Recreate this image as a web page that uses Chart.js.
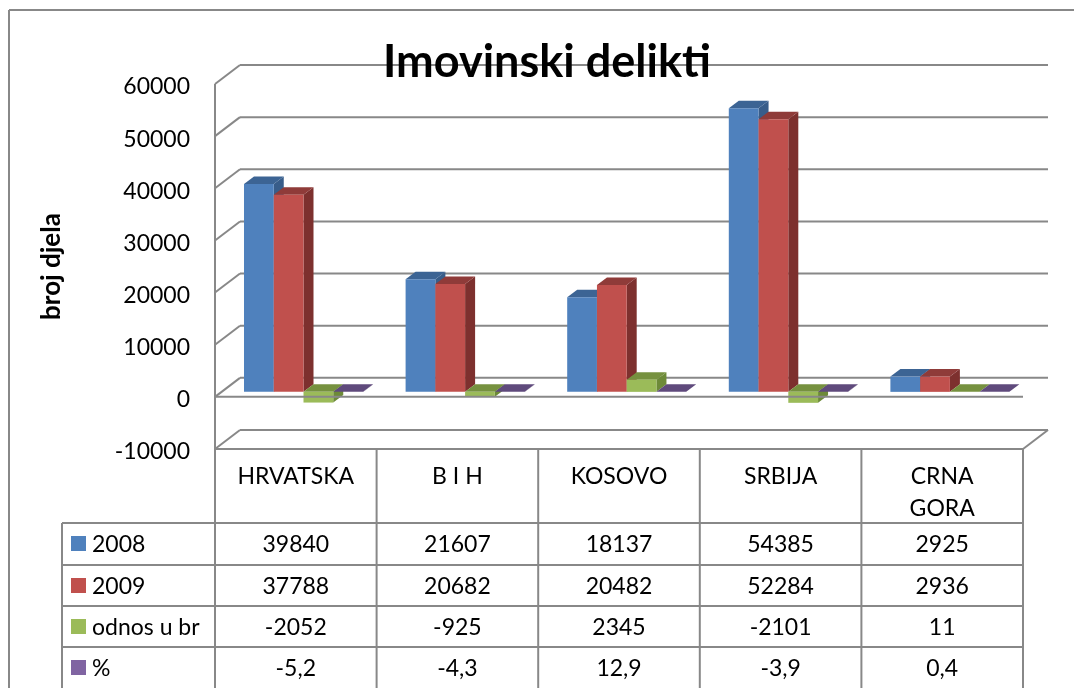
<!DOCTYPE html>
<html>
<head>
<meta charset="utf-8">
<style>html,body{margin:0;padding:0;background:#fff}canvas{display:block}</style>
<script src="https://cdn.jsdelivr.net/npm/chart.js@4"></script>
</head>
<body>
<canvas id="c" width="1074" height="688"></canvas>
<script>
const categories = ['HRVATSKA', 'B I H', 'KOSOVO', 'SRBIJA', ['CRNA', 'GORA']];
const seriesNames = ['2008', '2009', 'odnos u br', '%'];
const v2008 = [39840, 21607, 18137, 54385, 2925];
const v2009 = [37788, 20682, 20482, 52284, 2936];
const odnos = [-2052, -925, 2345, -2101, 11];
const postotak = [-5.2, -4.3, 12.9, -3.9, 0.4];
const frontColors = ['#4f81bd', '#c0504d', '#9bbb59', '#8064a2'];
const topColors = ['#3c6494', '#8f3b39', '#76913f', '#5f4a7c'];
const sideColors = ['#385d8a', '#7d302e', '#6d8a38', '#584472'];
const rowTops = [523, 565, 606, 647];

const LINE = '#888888', FONT = 'Lato';
const WALL = {dx: 25, dy: -19};     // depth of the plot box
const PLANE = {dx: 7.7, dy: -5};    // plane in which the bars stand
const BAR = {dx: 10, dy: -7.5};     // depth of one bar

function seg(ctx, x1, y1, x2, y2) { ctx.beginPath(); ctx.moveTo(x1, y1); ctx.lineTo(x2, y2); ctx.stroke(); }
function poly(ctx, pts, col) {
  ctx.fillStyle = col; ctx.beginPath();
  pts.forEach((p, i) => i ? ctx.lineTo(p[0], p[1]) : ctx.moveTo(p[0], p[1]));
  ctx.closePath(); ctx.fill();
}
const fmt = v => String(v).replace('.', ',');

const plot3d = {
  id: 'plot3d',
  afterLayout(chart) {
    chart.titleBlock.left = 0; chart.titleBlock.right = 1094;
  },
  beforeDraw(chart) {
    const ctx = chart.ctx, {x, y} = chart.scales, a = chart.chartArea;
    ctx.save();
    ctx.fillStyle = '#fff'; ctx.fillRect(0, 0, chart.width, chart.height);
    ctx.strokeStyle = LINE; ctx.lineWidth = 2;
    seg(ctx, 9, 10, chart.width, 10); seg(ctx, 9, 10, 9, chart.height);
    y.ticks.forEach(t => {
      const py = y.getPixelForValue(t.value);
      seg(ctx, a.left, py, a.left + WALL.dx, py + WALL.dy);
      seg(ctx, a.left + WALL.dx, py + WALL.dy, a.right + WALL.dx, py + WALL.dy);
    });
    const by = y.getPixelForValue(y.min);
    seg(ctx, a.right, by, a.right + WALL.dx, by + WALL.dy);
    seg(ctx, a.left, a.top, a.left, chart.height);
    // data table
    const half = (x.getPixelForValue(1) - x.getPixelForValue(0)) / 2;
    seg(ctx, a.left, by, a.right, by);
    categories.forEach((c, i) => {
      const px = x.getPixelForValue(i) + half;
      seg(ctx, px, by, px, chart.height);
    });
    seg(ctx, 62, rowTops[0], 62, chart.height);
    rowTops.forEach(ry => seg(ctx, 62, ry, a.right, ry));
    ctx.restore();
  },
  beforeDatasetsDraw(chart) {
    const ctx = chart.ctx, {y} = chart.scales, a = chart.chartArea;
    ctx.save();
    ctx.translate(PLANE.dx, PLANE.dy);
    categories.forEach((c, i) => {
      chart.data.datasets.forEach((ds, j) => {
        const el = chart.getDatasetMeta(j).data[i];
        const l = el.x - el.width / 2, r = el.x + el.width / 2;
        const t = Math.min(el.y, el.base), b = Math.max(el.y, el.base);
        poly(ctx, [[r, t], [r + BAR.dx, t + BAR.dy], [r + BAR.dx, b + BAR.dy], [r, b]], sideColors[j]);
        poly(ctx, [[l, t], [l + BAR.dx, t + BAR.dy], [r + BAR.dx, t + BAR.dy], [r, t]], topColors[j]);
        el.draw(ctx);
      });
    });
    ctx.restore();
    ctx.save();
    ctx.strokeStyle = LINE; ctx.lineWidth = 2;
    const zero = y.getPixelForValue(0);
    seg(ctx, a.left, zero, a.right, zero);
    ctx.restore();
    return false;
  },
  afterDraw(chart) {
    const ctx = chart.ctx, {x} = chart.scales;
    ctx.save();
    ctx.font = '23px ' + FONT; ctx.textBaseline = 'middle'; ctx.fillStyle = '#000';
    chart.data.datasets.forEach((ds, j) => {
      const top = rowTops[j], mid = top + 22;
      ctx.fillStyle = frontColors[j]; ctx.fillRect(71, top + 13, 15, 15);
      ctx.fillStyle = '#000';
      ctx.textAlign = 'left'; ctx.fillText(ds.label, 92, mid);
      ctx.textAlign = 'center';
      ds.data.forEach((v, i) => ctx.fillText(fmt(v), x.getPixelForValue(i), mid));
    });
    ctx.restore();
  }
};

const dataSeries = [v2008, v2009, odnos, postotak];
new Chart(document.getElementById('c'), {
  type: 'bar',
  data: {
    labels: categories,
    datasets: seriesNames.map((n, j) => ({
      label: n, data: dataSeries[j], backgroundColor: frontColors[j], borderWidth: 0
    }))
  },
  options: {
    responsive: false, animation: false,
    layout: {padding: {top: 42, right: 51, bottom: 0, left: 0}},
    datasets: {bar: {categoryPercentage: 0.7364, barPercentage: 1}},
    plugins: {
      legend: {display: false}, tooltip: {enabled: false},
      title: {display: true, text: 'Imovinski delikti', color: '#000',
        font: {family: FONT, size: 45, weight: 'bold', lineHeight: 0.889}, padding: {top: 0, bottom: 2}}
    },
    scales: {
      x: {
        grid: {display: false, drawTicks: false}, border: {display: false},
        afterFit: s => { s.height = 239; },
        ticks: {font: {family: FONT, size: 23, lineHeight: 1.38}, color: '#000', padding: 12, maxRotation: 0, autoSkip: false}
      },
      y: {
        min: -10000, max: 60000,
        grid: {display: false, drawTicks: false}, border: {display: false},
        afterFit: s => { s.width = 215; },
        ticks: {stepSize: 10000, font: {family: FONT, size: 23}, color: '#000', padding: 25, labelOffset: 3, callback: v => String(v)},
        title: {display: true, text: 'broj djela', color: '#000',
          font: {family: FONT, size: 26, weight: 'bold'}, padding: {top: 36, bottom: 0}}
      }
    }
  },
  plugins: [plot3d]
});
</script>
</body>
</html>
